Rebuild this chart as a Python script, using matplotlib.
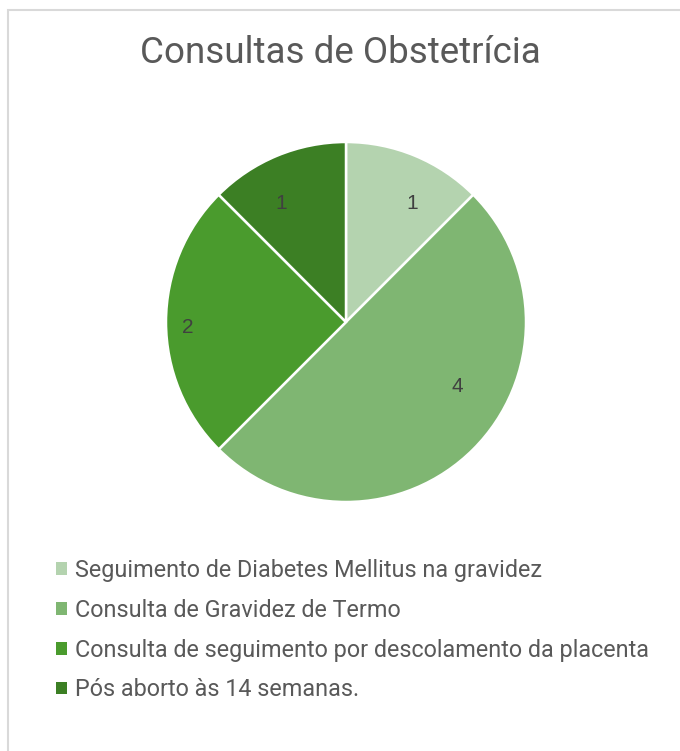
import matplotlib.pyplot as plt
from matplotlib.patches import Rectangle

categories = [
    "Seguimento de Diabetes Mellitus na gravidez",
    "Consulta de Gravidez de Termo",
    "Consulta de seguimento por descolamento da placenta",
    "Pós aborto às 14 semanas.",
]
values = [1, 4, 2, 1]
colors = ["#B4D3AF", "#7FB672", "#4A9B2D", "#3C7F24"]

# label spots (data units, pie radius = 1), placed like the original
label_pos = [(0.37, 0.66), (0.62, -0.36), (-0.88, -0.03), (-0.36, 0.66)]

plt.rcParams['font.family'] = ['Roboto', 'DejaVu Sans']
text_grey = "#595959"

fig = plt.figure(figsize=(6.8, 7.51), dpi=100)

# light frame round the chart area
fig.patches.append(Rectangle((8 / 680, -0.1), 1.2, 1 - 10 / 751 + 0.1,
                             transform=fig.transFigure, fill=False,
                             edgecolor="#D9D9D9", linewidth=1.5))

fig.text(0.5, 1 - 53 / 751, "Consultas de Obstetrícia", ha="center", va="center",
         fontsize=26.5, color=text_grey)

ax = fig.add_axes([166 / 680, (751 - 502) / 751, 360 / 680, 360 / 751])
wedges, texts, autotexts = ax.pie(
    values, colors=colors, startangle=90, counterclock=False,
    autopct=lambda p: f"{p * sum(values) / 100:.0f}",
    wedgeprops=dict(edgecolor="white", linewidth=1.8),
    textprops=dict(fontsize=15, color="#404040", family=['Liberation Sans']),
)
for t, (x, y) in zip(autotexts, label_pos):
    t.set_position((x, y))
    t.set_ha("center")
    t.set_va("center")
ax.set_xlim(-1, 1)
ax.set_ylim(-1, 1)
ax.set_aspect("equal")

leg = fig.legend(wedges, categories, loc="upper left",
                 bbox_to_anchor=(56 / 680, 1 - 559 / 751),
                 frameon=False, fontsize=16.8, labelcolor=text_grey,
                 handlelength=0.45, handleheight=0.45, handletextpad=0.35,
                 labelspacing=0.72, borderaxespad=0, borderpad=0)
for h in leg.legend_handles:
    h.set_edgecolor("none")

fig.savefig("out.png", dpi=100, facecolor="white")
